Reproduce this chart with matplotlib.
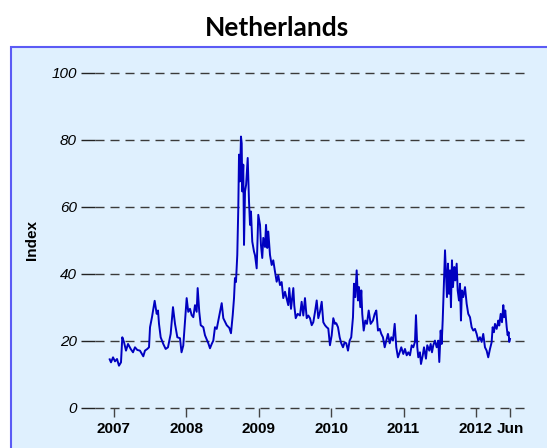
import matplotlib
matplotlib.use("Agg")
import matplotlib.pyplot as plt
from matplotlib.patches import Rectangle

# Volatility index for the Netherlands, decimal year vs index level
years = [
    2006.942, 2006.960, 2006.988, 2007.015, 2007.043, 2007.070, 2007.098, 2007.116,
    2007.139, 2007.167, 2007.195, 2007.232, 2007.264, 2007.291, 2007.323, 2007.360,
    2007.406, 2007.429, 2007.461, 2007.485, 2007.499, 2007.526, 2007.563, 2007.591,
    2007.609, 2007.623, 2007.646, 2007.682, 2007.715, 2007.747, 2007.784, 2007.816,
    2007.844, 2007.876, 2007.913, 2007.934, 2007.958, 2008.005, 2008.027, 2008.051,
    2008.074, 2008.097, 2008.120, 2008.143, 2008.157, 2008.179, 2008.199, 2008.235,
    2008.258, 2008.304, 2008.327, 2008.351, 2008.373, 2008.396, 2008.420, 2008.456,
    2008.489, 2008.511, 2008.558, 2008.594, 2008.617, 2008.641, 2008.659, 2008.672,
    2008.686, 2008.704, 2008.718, 2008.728, 2008.741, 2008.755, 2008.765, 2008.773,
    2008.787, 2008.797, 2008.811, 2008.826, 2008.848, 2008.866, 2008.880, 2008.893,
    2008.911, 2008.935, 2008.949, 2008.972, 2008.994, 2009.018, 2009.031, 2009.049,
    2009.063, 2009.087, 2009.101, 2009.118, 2009.132, 2009.156, 2009.179, 2009.201,
    2009.225, 2009.248, 2009.270, 2009.294, 2009.317, 2009.339, 2009.363, 2009.386,
    2009.408, 2009.422, 2009.446, 2009.478, 2009.491, 2009.511, 2009.538, 2009.570,
    2009.593, 2009.616, 2009.639, 2009.663, 2009.685, 2009.708, 2009.732, 2009.754,
    2009.777, 2009.801, 2009.823, 2009.846, 2009.870, 2009.892, 2009.915, 2009.939,
    2009.961, 2009.984, 2010.008, 2010.030, 2010.053, 2010.071, 2010.095, 2010.118,
    2010.140, 2010.164, 2010.187, 2010.209, 2010.233, 2010.256, 2010.278, 2010.302,
    2010.316, 2010.334, 2010.353, 2010.371, 2010.385, 2010.403, 2010.417, 2010.430,
    2010.450, 2010.472, 2010.495, 2010.519, 2010.546, 2010.578, 2010.602, 2010.624,
    2010.647, 2010.671, 2010.693, 2010.716, 2010.740, 2010.762, 2010.785, 2010.809,
    2010.831, 2010.854, 2010.878, 2010.900, 2010.923, 2010.947, 2010.969, 2010.997,
    2011.020, 2011.044, 2011.066, 2011.089, 2011.113, 2011.135, 2011.158, 2011.172,
    2011.190, 2011.204, 2011.227, 2011.241, 2011.265, 2011.283, 2011.310, 2011.328,
    2011.356, 2011.375, 2011.393, 2011.411, 2011.434, 2011.458, 2011.480, 2011.494,
    2011.513, 2011.527, 2011.541, 2011.559, 2011.573, 2011.586, 2011.600, 2011.614,
    2011.628, 2011.642, 2011.655, 2011.669, 2011.683, 2011.701, 2011.715, 2011.734,
    2011.748, 2011.766, 2011.780, 2011.793, 2011.807, 2011.825, 2011.849, 2011.872,
    2011.894, 2011.918, 2011.941, 2011.963, 2011.987, 2012.010, 2012.032, 2012.056,
    2012.079, 2012.101, 2012.125, 2012.148, 2012.170, 2012.194, 2012.217, 2012.231,
    2012.249, 2012.263, 2012.286, 2012.309, 2012.322, 2012.342, 2012.360, 2012.378,
    2012.391, 2012.405, 2012.425, 2012.438, 2012.452, 2012.460, 2012.470,
]
index_values = [
    14.4, 13.5, 15.0, 13.8, 14.5, 12.5, 13.5, 21.0,
    19.6, 17.0, 19.0, 17.5, 16.5, 18.0, 17.2, 17.0,
    15.3, 17.0, 17.5, 18.0, 24.0, 27.0, 31.9, 28.0,
    29.0, 25.0, 21.0, 19.0, 17.5, 18.0, 22.0, 30.0,
    25.0, 21.0, 20.7, 16.5, 18.5, 32.7, 28.6, 29.5,
    27.6, 27.0, 30.6, 28.6, 35.7, 28.6, 24.6, 24.0,
    21.6, 19.2, 17.7, 19.0, 20.0, 24.0, 23.5, 27.6,
    31.2, 26.7, 24.6, 23.8, 22.2, 27.6, 32.7, 38.7,
    37.5, 45.6, 59.7, 75.6, 67.6, 81.0, 79.0, 64.6,
    72.6, 48.6, 64.6, 66.6, 74.6, 61.6, 54.6, 58.6,
    49.6, 46.6, 45.5, 41.6, 57.6, 54.6, 48.6, 44.7,
    50.7, 48.0, 54.6, 47.7, 52.6, 45.6, 42.6, 44.0,
    40.6, 37.6, 39.5, 36.6, 37.5, 32.7, 34.6, 32.5,
    30.6, 35.7, 29.5, 35.7, 30.5, 26.7, 28.0, 27.5,
    31.6, 27.5, 32.7, 26.7, 27.5, 26.7, 24.6, 25.5,
    28.5, 32.0, 26.7, 28.6, 31.6, 25.5, 24.6, 24.0,
    23.6, 18.6, 21.6, 26.7, 25.0, 25.2, 24.0, 21.0,
    19.2, 18.0, 19.5, 19.2, 17.0, 20.0, 21.0, 27.0,
    37.0, 33.0, 41.0, 32.0, 36.0, 30.0, 35.0, 28.0,
    23.0, 26.0, 25.0, 29.0, 25.0, 26.0, 28.0, 29.0,
    23.0, 23.5, 22.0, 21.0, 18.0, 20.0, 22.0, 19.2,
    21.0, 20.0, 25.0, 18.0, 15.0, 16.5, 18.0, 16.0,
    17.5, 15.6, 16.5, 15.6, 18.6, 18.0, 19.6, 27.6,
    18.0, 15.0, 16.5, 13.0, 15.5, 18.0, 14.6, 18.6,
    17.0, 19.0, 16.5, 18.6, 20.0, 18.0, 20.0, 13.6,
    23.0, 19.0, 26.0, 38.0, 47.0, 40.0, 33.0, 43.0,
    34.0, 41.0, 30.0, 44.0, 36.0, 42.0, 38.0, 43.0,
    35.0, 32.0, 37.0, 26.0, 35.0, 33.0, 36.0, 31.0,
    28.0, 27.0, 24.0, 23.0, 23.5, 22.0, 20.0, 21.0,
    19.6, 22.0, 18.0, 17.0, 15.0, 17.5, 19.5, 24.0,
    22.5, 25.0, 23.5, 26.0, 24.5, 28.0, 25.5, 30.6,
    27.0, 29.0, 24.0, 21.6, 22.5, 19.6, 20.5,
]

x_tick_pos = [2007.0, 2008.0, 2009.0, 2010.0, 2011.0, 2012.0, 2012.47]
x_tick_labels = ["2007", "2008", "2009", "2010", "2011", "2012", "Jun"]
y_ticks = [0, 20, 40, 60, 80, 100]

W, H = 547, 448
fig = plt.figure(figsize=(W / 100, H / 100), dpi=100)
fig.patch.set_facecolor("white")

# light-blue panel with blue left/top border
panel = Rectangle((10.7 / W, -0.2), 1.2, 0.2 + (H - 47.5) / H,
                  transform=fig.transFigure, facecolor="#DFF0FE",
                  edgecolor="#5B5BF5", linewidth=1.5, zorder=-10)
fig.patches.append(panel)

left, right, top, bottom = 95, 529, 73, 407.5
ax = fig.add_axes([left / W, (H - bottom) / H, (right - left) / W, (bottom - top) / H])
ax.set_zorder(1)
ax.set_facecolor("none")
for s in ax.spines.values():
    s.set_visible(False)

ax.set_xlim(2006.739, 2012.733)
ax.set_ylim(0, 100)

for v in y_ticks:
    ax.axhline(v, color="#3a3a3a", linewidth=1.0, dashes=(6.5, 4.3),
               clip_on=False, zorder=1)

ax.plot(years, index_values, color="#0000C0", linewidth=1.4, zorder=3)

ax.set_yticks(y_ticks)
ax.set_yticklabels([str(v) for v in y_ticks], fontstyle="italic",
                   fontsize=11, family="Liberation Sans")
ax.tick_params(axis="y", length=10, width=1, color="#222222", pad=3,
               direction="out")

ax.set_xticks(x_tick_pos)
ax.set_xticklabels(x_tick_labels, fontweight="bold", fontsize=11,
                   family="Liberation Sans")
ax.tick_params(axis="x", length=6.5, width=1, color="#444444", pad=4,
               direction="out")

fig.text(0.506, 1 - 28 / H, "Netherlands", ha="center", va="center",
         family="Lato", fontweight="bold", fontsize=19, zorder=5)
fig.text(32 / W, 1 - 240 / H, "Index", rotation=90, ha="center",
         va="center", family="Liberation Sans", fontweight="bold",
         fontsize=11, zorder=5)

fig.savefig("out.png", dpi=100)
